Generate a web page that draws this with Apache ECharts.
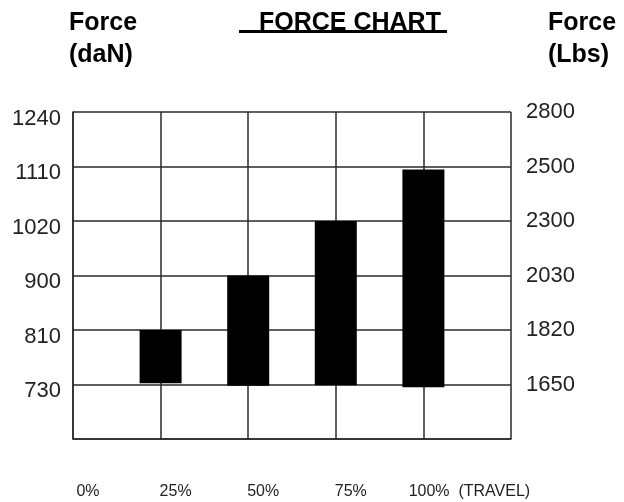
<!DOCTYPE html>
<html>
<head>
<meta charset="utf-8">
<script src="https://cdn.jsdelivr.net/npm/echarts@6/dist/echarts.min.js"></script>
<style>
  html, body { margin: 0; padding: 0; background: #fff; }
  #chart { width: 624px; height: 502px; }
</style>
</head>
<body>
<div id="chart"></div>
<script>
// x: travel positions (grid columns), labels under each line
const travelLabels = ['0%', '25%', '50%', '75%', '100%  (TRAVEL)'];
// y: force tick labels, equally spaced rows (not a linear scale)
const daNTicks = [730, 810, 900, 1020, 1110, 1240];
const lbsTicks = [1650, 1820, 2030, 2300, 2500, 2800];
// bars sit on the 25% .. 100% lines
const barTravel = [1, 2, 3, 4];
const forceLow = [732, 728, 729, 726];
const forceHigh = [810, 900, 1020, 1105];

// daN value -> row on the tick axis (row 1 = 730, row 6 = 1240)
function toRow(v) {
  let i = 0;
  while (i < daNTicks.length - 2 && v > daNTicks[i + 1]) i++;
  return 1 + i + (v - daNTicks[i]) / (daNTicks[i + 1] - daNTicks[i]);
}

const barData = barTravel.map((x, i) => [x, toRow(forceLow[i]), toRow(forceHigh[i])]);

const chart = echarts.init(document.getElementById('chart'));
const lineStyle = { color: '#2a2a2a', width: 1.5 };
const headStyle = { fontFamily: 'Liberation Sans', fontSize: 25, fontWeight: 'bold', color: '#000', lineHeight: 32 };

const option = {
  backgroundColor: '#fff',
  animation: false,
  title: [
    { text: 'Force\n(daN)', left: 64, top: 2, textStyle: headStyle },
    { text: 'Force\n(Lbs)', left: 543, top: 2, textStyle: headStyle },
    { text: 'FORCE CHART', left: 254, top: 2, textStyle: headStyle }
  ],
  graphic: [
    // title underline
    { type: 'rect', left: 239, top: 30, shape: { width: 208, height: 3 }, style: { fill: '#000' } }
  ],
  grid: { left: 73, right: 113, top: 112, bottom: 63 },
  xAxis: {
    type: 'value', min: 0, max: 5, interval: 1,
    axisLine: { show: true, lineStyle: lineStyle },
    axisTick: { show: false },
    splitLine: { show: true, lineStyle: lineStyle },
    axisLabel: {
      margin: 45,
      formatter: (v) => {
        const s = travelLabels[v];
        if (s === undefined) return '';
        return v === 4 ? '{last|' + s + '}' : '{n|' + s + '}';
      },
      rich: {
        n: { fontFamily: 'Liberation Sans', fontSize: 16, color: '#222', padding: [0, 0, 0, 30] },
        last: { fontFamily: 'Liberation Sans', fontSize: 16, color: '#222', padding: [0, 0, 0, 92] }
      }
    }
  },
  yAxis: [
    {
      type: 'value', min: 0, max: 6, interval: 1, position: 'left',
      axisLine: { show: true, lineStyle: lineStyle },
      axisTick: { show: false },
      splitLine: { show: true, lineStyle: lineStyle },
      axisLabel: {
        margin: 12,
        formatter: (v) => (v >= 1 ? '{t|' + daNTicks[v - 1] + '}' : ''),
        rich: {
          t: { fontFamily: 'Liberation Sans', fontSize: 22, color: '#222', padding: [13, 0, 0, 0] }
        }
      }
    },
    {
      type: 'value', min: 0, max: 6, interval: 1, position: 'right',
      axisLine: { show: false },
      axisTick: { show: false },
      splitLine: { show: false },
      axisLabel: {
        margin: 15,
        fontFamily: 'Liberation Sans', fontSize: 22, color: '#222',
        formatter: (v) => (v >= 1 ? String(lbsTicks[v - 1]) : '')
      }
    }
  ],
  series: [
    {
      type: 'custom',
      data: barData,
      encode: { x: 0, y: [1, 2] },
      renderItem: (params, api) => {
        const lo = api.coord([api.value(0), api.value(1)]);
        const hi = api.coord([api.value(0), api.value(2)]);
        const w = 42;
        return {
          type: 'rect',
          shape: { x: lo[0] - w / 2, y: hi[1], width: w, height: lo[1] - hi[1] },
          style: { fill: '#000' }
        };
      }
    }
  ]
};

chart.setOption(option);
</script>
</body>
</html>
